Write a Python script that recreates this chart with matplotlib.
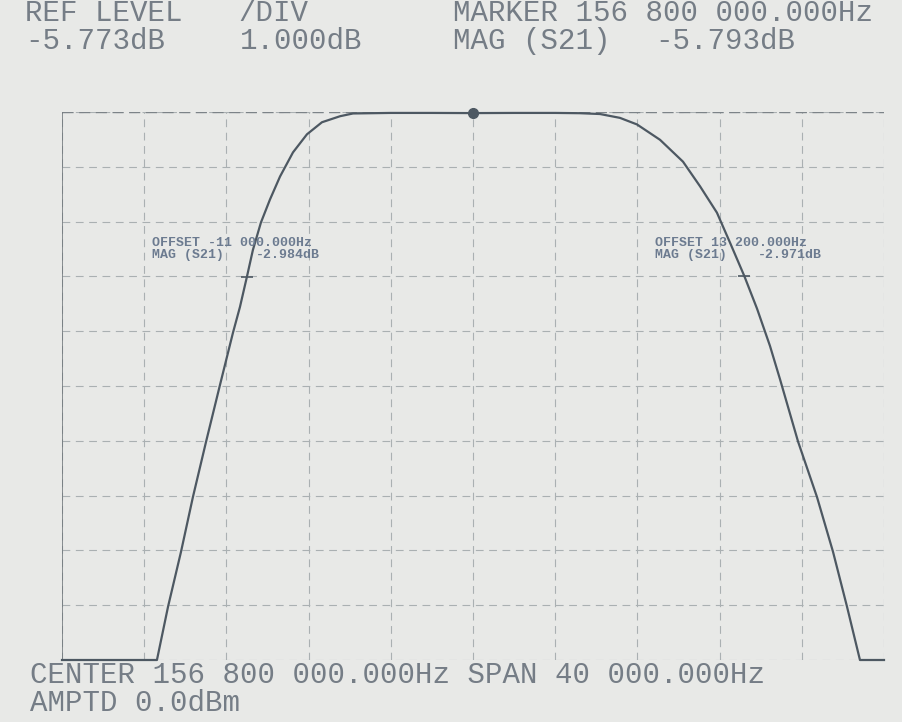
import matplotlib
matplotlib.use("Agg")
import matplotlib.pyplot as plt

# network analyzer trace, S21 of the band-pass filter
center_mhz = 156.8
span_mhz = 40.0
ref_level_db = -5.773
db_per_div = 1.0

offset_mhz = [-20.00, -15.38, -14.84, -14.21, -13.63, -12.99, -12.31, -11.68,
              -11.34, -11.00, -10.71, -10.32, -9.88, -9.39, -8.76, -8.08,
              -7.35, -6.47, -5.84, -4.00, -2.00, 0.00, 2.00, 4.00, 5.20,
              6.18, 7.15, 7.98, 9.10, 10.22, 11.05, 11.87, 12.51, 13.20,
              13.82, 14.45, 14.94, 15.82, 16.74, 17.52, 18.20, 18.83, 20.00]
mag_db = [-15.773, -15.773, -14.80, -13.80, -12.80, -11.79, -10.75, -9.80,
          -9.33, -8.777, -8.29, -7.79, -7.37, -6.95, -6.51, -6.18,
          -5.96, -5.85, -5.80, -5.79, -5.79, -5.793, -5.79, -5.79, -5.795,
          -5.81, -5.88, -6.00, -6.28, -6.68, -7.13, -7.61, -8.16, -8.764,
          -9.36, -10.04, -10.65, -11.79, -12.80, -13.80, -14.80, -15.773, -15.773]

marker_offset = [0.0, -11.0, 13.2]
marker_db = [-5.793, -8.777, -8.764]

header = [("REF LEVEL", 25, 21), ("/DIV", 238, 21), ("MARKER 156 800 000.000Hz", 453, 21),
          ("-5.773dB", 25, 49), ("1.000dB", 240, 49), ("MAG (S21)", 453, 49),
          ("-5.793dB", 655, 49)]
footer = [("CENTER 156 800 000.000Hz SPAN 40 000.000Hz", 30, 683),
          ("AMPTD 0.0dBm", 30, 711)]
notes = [("OFFSET -11 000.000Hz", 152, 246), ("MAG (S21)", 152, 258),
         ("-2.984dB", 256, 258),
         ("OFFSET 13 200.000Hz", 655, 246), ("MAG (S21)", 655, 258),
         ("-2.971dB", 758, 258)]

W, H = 902, 722
bg = "#e8e9e7"
ink = "#4d5862"
txt = "#757d86"

fig = plt.figure(figsize=(W / 100, H / 100), dpi=100, facecolor=bg)
ax = fig.add_axes([62 / W, 1 - 660 / H, 822 / W, 548 / H], facecolor=bg)

freq = [center_mhz + f for f in offset_mhz]
ax.set_xlim(center_mhz - span_mhz / 2, center_mhz + span_mhz / 2)
ax.set_ylim(ref_level_db - 10 * db_per_div, ref_level_db)

xt = [center_mhz - span_mhz / 2 + i * span_mhz / 10 for i in range(11)]
yt = [ref_level_db - i * db_per_div for i in range(11)]
for x in xt:
    ax.axvline(x, color="#aab0b2", lw=0.8, ls=(0, (7, 5)), zorder=1)
for y in yt:
    ax.axhline(y, color="#aab0b2", lw=0.8, ls=(0, (7, 5)), zorder=1)
ax.axhline(ref_level_db, color="#7c8388", lw=1.0, ls=(0, (8, 4)), zorder=1)
ax.axvline(xt[0], color="#6c7378", lw=1.1, zorder=1)

for s in ax.spines.values():
    s.set_visible(False)
ax.set_xticks([])
ax.set_yticks([])

ax.plot(freq, mag_db, color=ink, lw=1.6, clip_on=False, zorder=3)

mf = [center_mhz + f for f in marker_offset]
ax.plot(mf[:1], marker_db[:1], "o", ms=7, color=ink, mec=ink, clip_on=False, zorder=4)
ax.plot(mf[1:], marker_db[1:], "_", ms=8, mew=1.2, color=ink, zorder=4)

big = dict(family="Liberation Mono", fontsize=21, color=txt, va="baseline")
for s, x, y in header + footer:
    fig.text(x / W, 1 - y / H, s, **big)

small = dict(family="Liberation Mono", fontsize=9.5, color="#6c7b90",
             va="baseline", fontweight="bold")
for s, x, y in notes:
    fig.text(x / W, 1 - y / H, s, **small)

fig.savefig("out.png", dpi=100, facecolor=bg)
